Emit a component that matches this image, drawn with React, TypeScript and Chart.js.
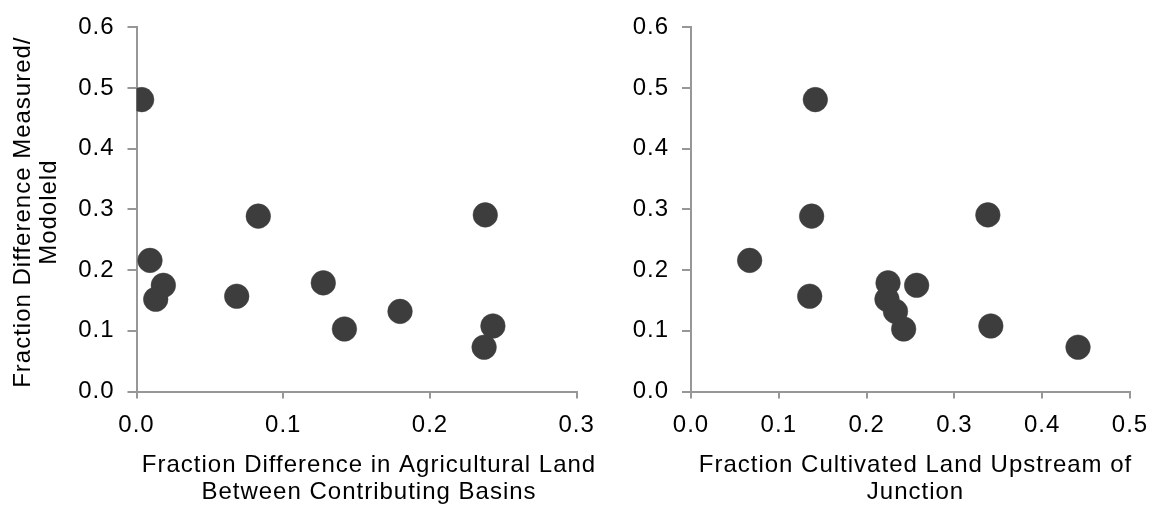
import React, { useEffect, useRef } from "react";
import { Chart, registerables } from "chart.js";

Chart.register(...registerables);

// Fraction difference between measured and modelled values, one per junction
const measuredVsModelled = [0.481, 0.289, 0.216, 0.157, 0.179, 0.175, 0.152, 0.132, 0.103, 0.291, 0.108, 0.073];
// Fraction difference in agricultural land between the two contributing basins
const agLandDifference = [0.0035, 0.083, 0.0092, 0.0683, 0.1273, 0.0183, 0.0131, 0.1796, 0.1417, 0.2377, 0.2429, 0.2369];
// Fraction of cultivated land upstream of the junction
const cultivatedUpstream = [0.1416, 0.1374, 0.0668, 0.1352, 0.2244, 0.257, 0.2232, 0.2329, 0.2422, 0.3381, 0.3415, 0.4408];

// Axis ranges and tick step
const yRange = [0, 0.6];
const leftXRange = [0, 0.3];
const rightXRange = [0, 0.5];
const tickStep = 0.1;

// Axis captions
const yTitleLines = ["Fraction Difference Measured/", "Modoleld"];
const leftXTitleLines = ["Fraction Difference in Agricultural Land", "Between Contributing Basins"];
const rightXTitleLines = ["Fraction Cultivated Land Upstream of", "Junction"];

const FONT_FAMILY = '"Liberation Sans", Arial, Helvetica, sans-serif';
const FONT_SIZE = 24;
const LINE_HEIGHT = 26.8;
const LETTER_SPACING = "1px";
const AXIS_COLOR = "#979797";
const POINT_COLOR = "#3d3d3d";
const TEXT_COLOR = "#000000";

// Slightly wider letter spacing for every label the chart draws
const spacingPlugin = {
  id: "spacing",
  beforeDraw(chart: any) {
    (chart.ctx as any).letterSpacing = LETTER_SPACING;
  },
};

// Multi-line axis captions
const captionPlugin = {
  id: "captions",
  afterDraw(chart: any, _args: any, opts: any) {
    const { ctx, chartArea } = chart;
    ctx.save();
    ctx.font = `${FONT_SIZE}px ${FONT_FAMILY}`;
    (ctx as any).letterSpacing = LETTER_SPACING;
    ctx.fillStyle = TEXT_COLOR;
    ctx.textAlign = "center";
    ctx.textBaseline = "middle";
    const cx = (chartArea.left + chartArea.right) / 2 + opts.xShift;
    (opts.xLines as string[]).forEach((line, i) => {
      ctx.fillText(line, cx, chartArea.bottom + opts.xOffset + i * LINE_HEIGHT);
    });
    if (opts.yLines) {
      const cy = (chartArea.top + chartArea.bottom) / 2 + opts.yShift;
      ctx.translate(opts.yX, cy);
      ctx.rotate(-Math.PI / 2);
      (opts.yLines as string[]).forEach((line, i) => {
        ctx.fillText(line, 0, i * LINE_HEIGHT);
      });
    }
    ctx.restore();
  },
};

type PanelProps = {
  xValues: number[];
  xRange: number[];
  xLines: string[];
  yLines?: string[];
  width: number;
  yAxisWidth: number;
  padRight: number;
  xShift: number;
};

function ScatterPanel(props: PanelProps) {
  const ref = useRef<HTMLCanvasElement | null>(null);

  useEffect(() => {
    if (!ref.current) return;
    const font = { family: FONT_FAMILY, size: FONT_SIZE, lineHeight: 1.2 };
    const fmt = (v: any) => Number(v).toFixed(1);
    const chart = new Chart(ref.current, {
      type: "scatter",
      data: {
        datasets: [
          {
            data: props.xValues.map((x, i) => ({ x, y: measuredVsModelled[i] })),
            backgroundColor: POINT_COLOR,
            borderColor: "rgba(61,61,61,0.5)",
            borderWidth: 1,
            pointRadius: 12.3,
            pointHoverRadius: 12.3,
          },
        ],
      },
      options: {
        animation: false,
        responsive: false,
        events: [],
        layout: { padding: { top: 17, right: props.padRight, bottom: 0, left: 0 } },
        plugins: {
          legend: { display: false },
          tooltip: { enabled: false },
          captions: {
            xLines: props.xLines,
            xOffset: 73.8,
            xShift: props.xShift,
            yLines: props.yLines,
            yX: 22.9,
            yShift: 2.7,
          },
        } as any,
        scales: {
          x: {
            type: "linear",
            position: "bottom",
            min: props.xRange[0],
            max: props.xRange[1],
            ticks: { stepSize: tickStep, padding: 12.2, color: TEXT_COLOR, font, callback: fmt },
            grid: { drawOnChartArea: false, drawTicks: true, tickLength: 7, color: AXIS_COLOR, lineWidth: 2 },
            border: { display: true, color: AXIS_COLOR, width: 2 },
            afterFit: (s: any) => {
              s.height = 122.5;
            },
          },
          y: {
            type: "linear",
            position: "left",
            min: yRange[0],
            max: yRange[1],
            ticks: { stepSize: tickStep, padding: 13, color: TEXT_COLOR, font, callback: fmt },
            grid: { drawOnChartArea: false, drawTicks: true, tickLength: 9, color: AXIS_COLOR, lineWidth: 2 },
            border: { display: true, color: AXIS_COLOR, width: 2 },
            afterFit: (s: any) => {
              s.width = props.yAxisWidth;
            },
          },
        },
      } as any,
      plugins: [spacingPlugin, captionPlugin],
    });
    return () => chart.destroy();
  }, []);

  return <canvas ref={ref} width={props.width} height={514} style={{ display: "block" }} />;
}

export default function App() {
  return (
    <div
      style={{
        position: "absolute",
        left: 0,
        top: 0,
        width: 1163,
        height: 514,
        display: "flex",
        background: "#ffffff",
      }}
    >
      <ScatterPanel
        xValues={agLandDifference}
        xRange={leftXRange}
        xLines={leftXTitleLines}
        yLines={yTitleLines}
        width={610}
        yAxisWidth={136.5}
        padRight={33.3}
        xShift={12.4}
      />
      <ScatterPanel
        xValues={cultivatedUpstream}
        xRange={rightXRange}
        xLines={rightXTitleLines}
        width={553}
        yAxisWidth={81}
        padRight={33}
        xShift={5}
      />
    </div>
  );
}
